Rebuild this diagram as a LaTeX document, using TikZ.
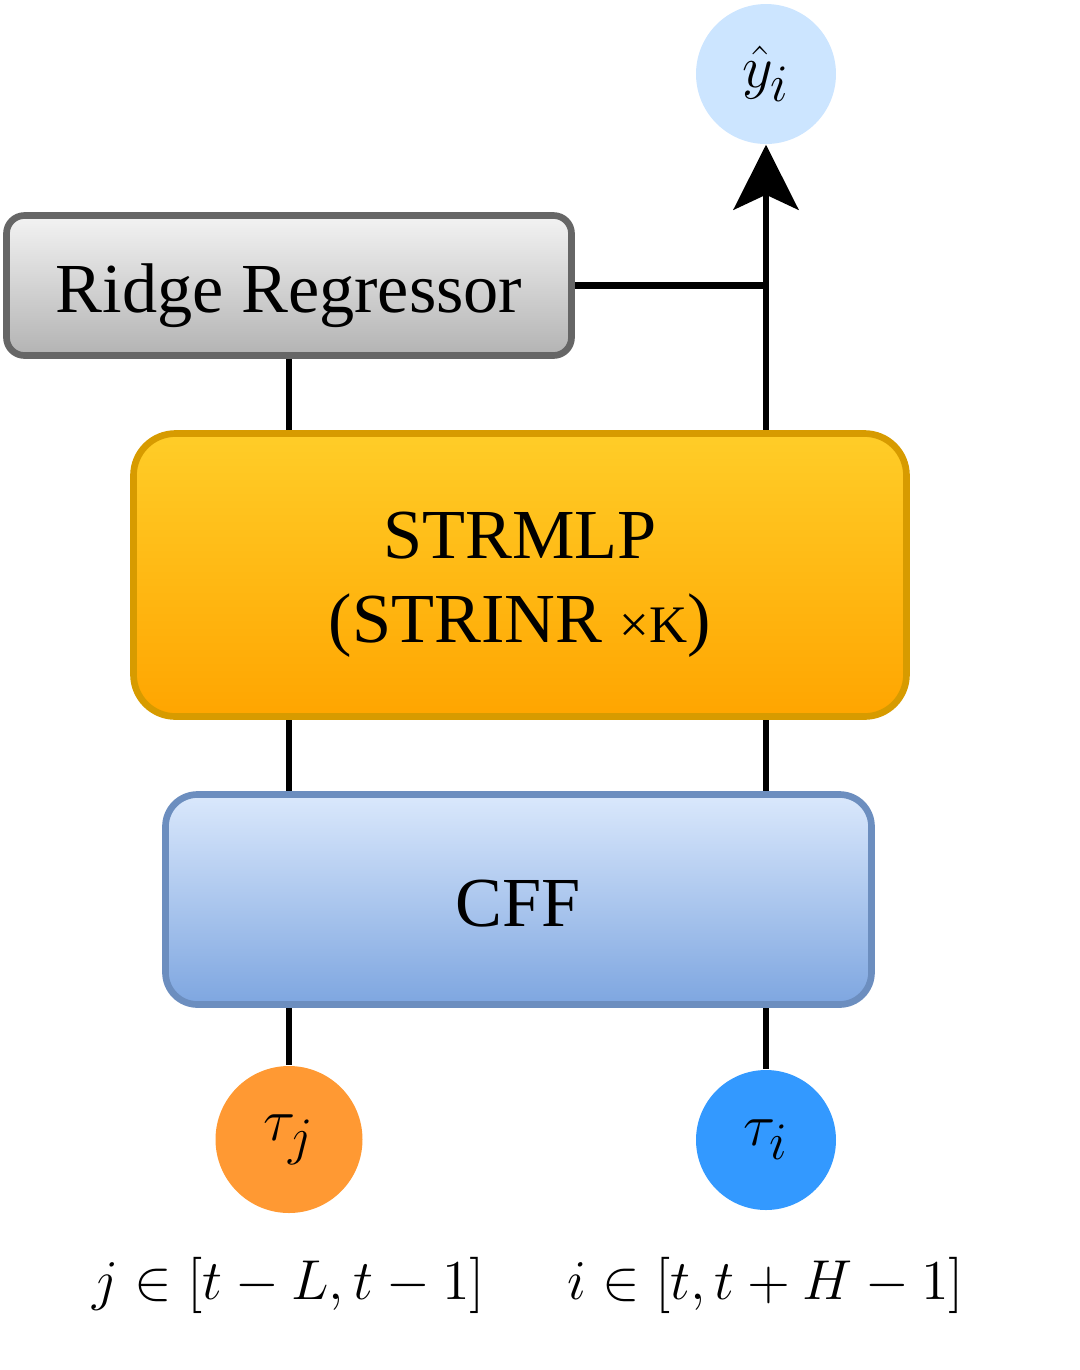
\RequirePackage{fix-cm}
\documentclass[tikz,border=0pt]{standalone}
\usepackage[no-math]{fontspec}
\setmainfont{Liberation Serif}
\usepackage{tikz}
\usetikzlibrary{arrows.meta,positioning,backgrounds}
\DeclareMathSizes{17}{17}{15}{12}

\definecolor{yhatfill}{HTML}{CCE5FF}
\definecolor{taujfill}{HTML}{FF9933}
\definecolor{tauifill}{HTML}{3399FF}
\definecolor{ridgeline}{HTML}{666666}
\definecolor{ridgetop}{HTML}{F3F3F3}
\definecolor{ridgebot}{HTML}{B3B3B3}
\definecolor{strmlpline}{HTML}{D79B00}
\definecolor{strmlptop}{HTML}{FFCD28}
\definecolor{strmlpbot}{HTML}{FFA500}
\definecolor{cffline}{HTML}{6C8EBF}
\definecolor{cfftop}{HTML}{DAE8FC}
\definecolor{cffbot}{HTML}{7EA6E0}

\begin{document}
\begin{tikzpicture}[
  box/.style={rectangle, draw, line width=1.9pt, inner sep=0pt, align=center, font=\fontsize{20}{24}\selectfont},
  ball/.style={circle, inner sep=0pt, minimum size=1.4cm, font=\fontsize{17}{20}\selectfont},
  interval/.style={inner sep=0pt, font=\fontsize{16}{19}\selectfont},
  link/.style={line width=1.9pt},
  arrow/.style={link, -{Stealth[length=6.5mm, width=6.5mm, inset=1.5mm]}}
]
\useasboundingbox (0,0) rectangle (10.8,-13.7);

% Output
\node[ball, fill=yhatfill] (yhat) at (7.66,-0.74) {$\hat{y}_i$};

% Model blocks
\node[box, draw=ridgeline, top color=ridgetop, bottom color=ridgebot, rounded corners=1.8mm, minimum width=5.65cm, minimum height=1.4cm, text height=5.3mm, text depth=0pt] (ridge) at (2.89,-2.855) {Ridge Regressor};
\node[box, draw=strmlpline, top color=strmlptop, bottom color=strmlpbot, rounded corners=4.2mm, minimum width=7.73cm, minimum height=2.83cm] (strmlp) at (5.2,-5.75) {\rule{0pt}{6.6mm}STRMLP\\(STRINR {\fontsize{15}{18}\selectfont ×K})};
\node[box, draw=cffline, top color=cfftop, bottom color=cffbot, rounded corners=3.2mm, minimum width=7.06cm, minimum height=2.1cm, text height=5.3mm, text depth=0pt] (cff) at (5.185,-8.995) {CFF};

% Inputs
\node[ball, fill=taujfill, minimum size=1.47cm] (tauj) at (2.89,-11.395) {$\tau_j$};
\node[ball, fill=tauifill] (taui) at (7.66,-11.40) {$\tau_i$};
\node[interval, below=4.3mm of tauj] (rangej) {$j \in [t-L, t-1]$};
\node[interval, below=4.6mm of taui] (rangei) {$i \in [t, t+H-1]$};

% Connectors
\begin{scope}[on background layer]
\draw[link] (ridge.east) -- (ridge.east -| yhat);
\draw[link] (ridge.south) -- (ridge.south |- strmlp.north);
\draw[arrow] (strmlp.north -| yhat) -- (yhat.south);
\draw[link] (strmlp.south -| tauj) -- (cff.north -| tauj);
\draw[link] (strmlp.south -| taui) -- (cff.north -| taui);
\draw[link] (cff.south -| tauj) -- (tauj.north);
\draw[link] (cff.south -| taui) -- (taui.north);
\end{scope}

\end{tikzpicture}
\end{document}
